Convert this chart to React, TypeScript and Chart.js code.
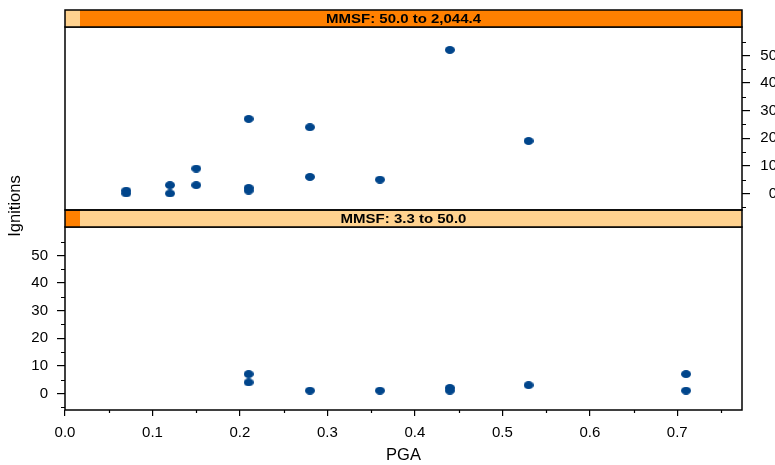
import React, { useEffect, useRef } from 'react';
import { Chart, registerables } from 'chart.js';

Chart.register(...registerables);

// ---- data ----
const stripLabels = ['MMSF: 50.0 to 2,044.4', 'MMSF: 3.3 to 50.0'];
const topPGA = [0.07, 0.07, 0.12, 0.12, 0.15, 0.15, 0.21, 0.21, 0.21, 0.28, 0.28, 0.36, 0.44, 0.53];
const topIgnitions = [1, 0, 3, 0, 9, 3, 27, 2, 1, 24, 6, 5, 52, 19];
const bottomPGA = [0.21, 0.21, 0.28, 0.36, 0.44, 0.44, 0.53, 0.71, 0.71];
const bottomIgnitions = [7, 4, 1, 1, 2, 1, 3, 7, 1];
const xMajorTicks = [0, 0.1, 0.2, 0.3, 0.4, 0.5, 0.6, 0.7];
const xMinorTicks = [0.05, 0.15, 0.25, 0.35, 0.45, 0.55, 0.65, 0.75];
const yMajorTicks = [0, 10, 20, 30, 40, 50];
const yMinorTicks = [-5, 5, 15, 25, 35, 45, 55];
const xRange = [0, 0.774];
const yRange = [-6, 60.3];
const xTitle = 'PGA';
const yTitle = 'Ignitions';

const ORANGE = '#FF8000';
const LIGHT = '#FFD28F';
const DOT = '#00458B';
const FONT = 'Arial, "Liberation Sans", Helvetica, sans-serif';

function makeDot() {
  const c = document.createElement('canvas');
  c.width = 10;
  c.height = 8;
  const g = c.getContext('2d')!;
  g.fillStyle = DOT;
  g.beginPath();
  g.ellipse(5, 4, 5, 4, 0, 0, Math.PI * 2);
  g.fill();
  return c;
}

function panelPlugin(opts: {
  label: string;
  main: string;
  box: string;
  side: 'left' | 'right';
  xMinor: boolean;
  ylab: boolean;
}) {
  return {
    id: 'panelDecor',
    afterDraw(chart: any) {
      const { ctx, chartArea: a, scales } = chart;
      ctx.save();
      ctx.strokeStyle = '#000';
      // minor ticks
      ctx.lineWidth = 1.2;
      ctx.beginPath();
      for (const v of yMinorTicks) {
        const p = Math.round(scales.y.getPixelForValue(v)) + 0.5;
        if (opts.side === 'left') {
          ctx.moveTo(a.left, p);
          ctx.lineTo(a.left - 4, p);
        } else {
          ctx.moveTo(a.right, p);
          ctx.lineTo(a.right + 4, p);
        }
      }
      if (opts.xMinor) {
        for (const v of xMinorTicks) {
          const p = Math.round(scales.x.getPixelForValue(v)) + 0.5;
          if (p < a.right) {
            ctx.moveTo(p, a.bottom);
            ctx.lineTo(p, a.bottom + 3);
          }
        }
      }
      ctx.stroke();
      // panel border
      ctx.lineWidth = 1.5;
      ctx.strokeRect(a.left, a.top, a.right - a.left, a.bottom - a.top);
      // strip
      const sh = 17;
      const sy = a.top - sh;
      ctx.fillStyle = opts.main;
      ctx.fillRect(a.left, sy, a.right - a.left, sh);
      ctx.fillStyle = opts.box;
      ctx.fillRect(a.left, sy, 15, sh);
      ctx.strokeRect(a.left, sy, a.right - a.left, sh);
      ctx.fillStyle = '#000';
      ctx.font = 'bold 12.5px ' + FONT;
      ctx.textAlign = 'center';
      ctx.textBaseline = 'middle';
      ctx.save();
      ctx.translate((a.left + a.right) / 2, sy + sh / 2 + 1);
      ctx.scale(1.2, 1);
      ctx.fillText(opts.label, 0, 0);
      ctx.restore();
      if (opts.ylab) {
        ctx.save();
        ctx.translate(15, 206);
        ctx.rotate(-Math.PI / 2);
        ctx.font = '16.5px ' + FONT;
        ctx.textAlign = 'center';
        ctx.textBaseline = 'middle';
        ctx.fillText(yTitle, 0, 0);
        ctx.restore();
      }
      ctx.restore();
    },
  };
}

const setTicks = (vals: number[]) => (s: any) => {
  s.ticks = vals.map((v) => ({ value: v }));
};

export default function App() {
  const topRef = useRef<HTMLCanvasElement>(null);
  const botRef = useRef<HTMLCanvasElement>(null);

  useEffect(() => {
    const dot = makeDot();
    const tickFont = { family: FONT, size: 15 };
    const gridOpts = (len: number) => ({
      display: true,
      drawOnChartArea: false,
      drawTicks: true,
      tickLength: len,
      color: '#000',
      lineWidth: 1.2,
    });

    const top = new Chart(topRef.current!, {
      type: 'scatter',
      data: {
        datasets: [
          {
            data: topPGA.map((x, i) => ({ x, y: topIgnitions[i] })),
            pointStyle: dot as any,
            pointRadius: 5,
            backgroundColor: DOT,
            borderWidth: 0,
          },
        ],
      },
      options: {
        animation: false,
        responsive: false,
        devicePixelRatio: 1,
        events: [],
        layout: { padding: { left: 65, top: 27, right: -2, bottom: 255 } },
        plugins: { legend: { display: false }, tooltip: { enabled: false } },
        scales: {
          x: { type: 'linear', display: false, min: xRange[0], max: xRange[1] },
          y: {
            type: 'linear',
            position: 'right',
            min: yRange[0],
            max: yRange[1],
            afterBuildTicks: setTicks(yMajorTicks),
            afterFit: (s: any) => {
              s.width = 35;
            },
            ticks: { font: tickFont, color: '#000', crossAlign: 'far', padding: 9, autoSkip: false },
            grid: gridOpts(8),
            border: { display: false },
          },
        },
      },
      plugins: [
        panelPlugin({ label: stripLabels[0], main: ORANGE, box: LIGHT, side: 'right', xMinor: false, ylab: true }),
      ],
    } as any);

    const bot = new Chart(botRef.current!, {
      type: 'scatter',
      data: {
        datasets: [
          {
            data: bottomPGA.map((x, i) => ({ x, y: bottomIgnitions[i] })),
            pointStyle: dot as any,
            pointRadius: 5,
            backgroundColor: DOT,
            borderWidth: 0,
          },
        ],
      },
      options: {
        animation: false,
        responsive: false,
        devicePixelRatio: 1,
        events: [],
        layout: { padding: { left: 0, top: 227, right: 33, bottom: 0 } },
        plugins: { legend: { display: false }, tooltip: { enabled: false } },
        scales: {
          x: {
            type: 'linear',
            position: 'bottom',
            min: xRange[0],
            max: xRange[1],
            afterBuildTicks: setTicks(xMajorTicks),
            afterFit: (s: any) => {
              s.height = 55;
            },
            ticks: {
              font: tickFont,
              color: '#000',
              padding: 8,
              autoSkip: false,
              maxRotation: 0,
              callback: (v: any) => Number(v).toFixed(1),
            },
            grid: gridOpts(6),
            border: { display: false },
            title: {
              display: true,
              text: xTitle,
              color: '#000',
              font: { family: FONT, size: 16.5 },
              padding: { top: 0, bottom: 0 },
            },
          },
          y: {
            type: 'linear',
            position: 'left',
            min: yRange[0],
            max: yRange[1],
            afterBuildTicks: setTicks(yMajorTicks),
            afterFit: (s: any) => {
              s.width = 65;
            },
            ticks: { font: tickFont, color: '#000', padding: 9, autoSkip: false },
            grid: gridOpts(8),
            border: { display: false },
          },
        },
      },
      plugins: [
        panelPlugin({ label: stripLabels[1], main: LIGHT, box: ORANGE, side: 'left', xMinor: true, ylab: false }),
      ],
    } as any);

    return () => {
      top.destroy();
      bot.destroy();
    };
  }, []);

  const cs: React.CSSProperties = { position: 'absolute', left: 0, top: 0, width: 775, height: 465 };
  return (
    <div style={{ position: 'fixed', left: 0, top: 0, width: 775, height: 465, background: '#fff' }}>
      <canvas ref={botRef} width={775} height={465} style={cs} />
      <canvas ref={topRef} width={775} height={465} style={cs} />
    </div>
  );
}
